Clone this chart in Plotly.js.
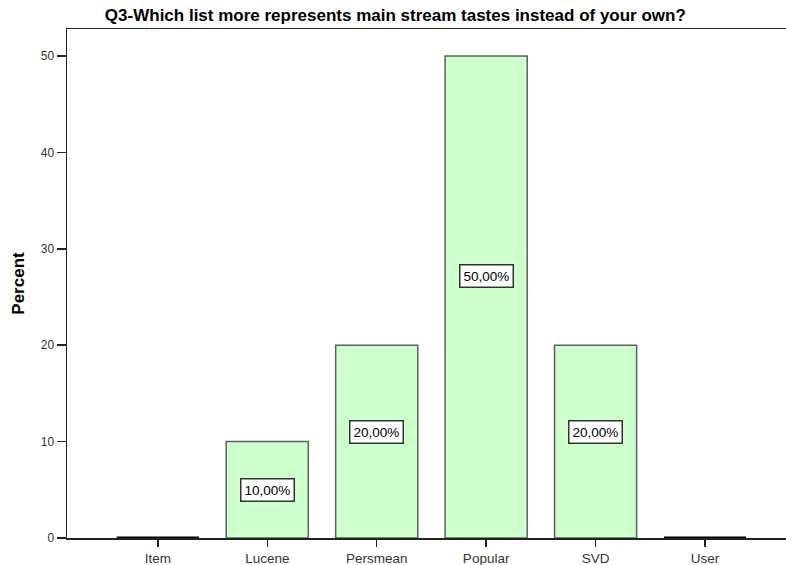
<!DOCTYPE html>
<html>
<head>
<meta charset="utf-8">
<script src="https://cdn.plot.ly/plotly-3.0.1.min.js"></script>
<style>html,body{margin:0;padding:0;background:#fff}#chart{width:786px;height:565px}</style>
</head>
<body>
<div id="chart"></div>
<script>
const categories = ["Item", "Lucene", "Persmean", "Popular", "SVD", "User"];
const percents = [0, 10, 20, 50, 20, 0];
const labels = ["", "10,00%", "20,00%", "50,00%", "20,00%", ""];
const yTicks = [0, 10, 20, 30, 40, 50];

// style: pixel offsets of the value boxes as placed in the original
const labelShiftPx = [0, 0, 10, 21, 10, 0];

const FONT = "Liberation Sans, Arial, sans-serif";
const barWidth = 0.75;
const xs = categories.map((c, i) => i);

const bars = {
  type: "bar",
  x: xs,
  y: percents,
  width: barWidth,
  marker: { color: "#ccffcc", line: { color: "#5f5f5f", width: 1.5 } },
  hoverinfo: "skip"
};

// zero-valued categories drawn as flat dark lines at the baseline
const zx = [], zy = [];
percents.forEach((v, i) => {
  if (v === 0) {
    zx.push(i - barWidth / 2, i + barWidth / 2, null);
    zy.push(v, v, null);
  }
});
const zeroLines = {
  type: "scatter", mode: "lines", x: zx, y: zy,
  line: { color: "#000000", width: 3 }, hoverinfo: "skip", cliponaxis: false
};

const annotations = [];
percents.forEach((v, i) => {
  if (v > 0) {
    annotations.push({
      x: i, y: v / 2, xref: "x", yref: "y", yshift: labelShiftPx[i],
      text: labels[i], showarrow: false,
      font: { family: FONT, size: 13.5, color: "#000" },
      bgcolor: "#ffffff", bordercolor: "#333333", borderwidth: 1.5, borderpad: 3
    });
  }
});

const layout = {
  width: 786, height: 565,
  margin: { l: 67, r: 0, t: 29, b: 27 },
  paper_bgcolor: "#ffffff", plot_bgcolor: "#ffffff",
  showlegend: false,
  title: {
    text: "<b>Q3-Which list more represents main stream tastes instead of your own?</b>",
    font: { family: FONT, size: 17, color: "#000" },
    x: 0.503, xanchor: "center", xref: "container",
    y: 1 - 15.5 / 565, yref: "container", yanchor: "middle"
  },
  xaxis: {
    range: [-0.83, 5.74],
    tickvals: xs, ticktext: categories,
    showgrid: false, zeroline: false,
    showline: true, linecolor: "#222222", linewidth: 1.5, mirror: true,
    ticks: "outside", ticklen: 7, tickwidth: 1.5, tickcolor: "#222222",
    tickfont: { family: FONT, size: 13.5, color: "#333" },
    fixedrange: true
  },
  yaxis: {
    range: [0, 52.8],
    tickvals: yTicks,
    showgrid: false, zeroline: false,
    showline: true, linecolor: "#222222", linewidth: 1.5,
    ticks: "outside", ticklen: 9, tickwidth: 1.5, tickcolor: "#222222",
    tickfont: { family: FONT, size: 12, color: "#333" },
    title: {
      text: "<b>Percent</b>", standoff: 12,
      font: { family: FONT, size: 17, color: "#000" }
    },
    automargin: false,
    fixedrange: true
  },
  annotations: annotations
};

Plotly.newPlot("chart", [bars, zeroLines], layout, { displayModeBar: false, staticPlot: true });
</script>
</body>
</html>
